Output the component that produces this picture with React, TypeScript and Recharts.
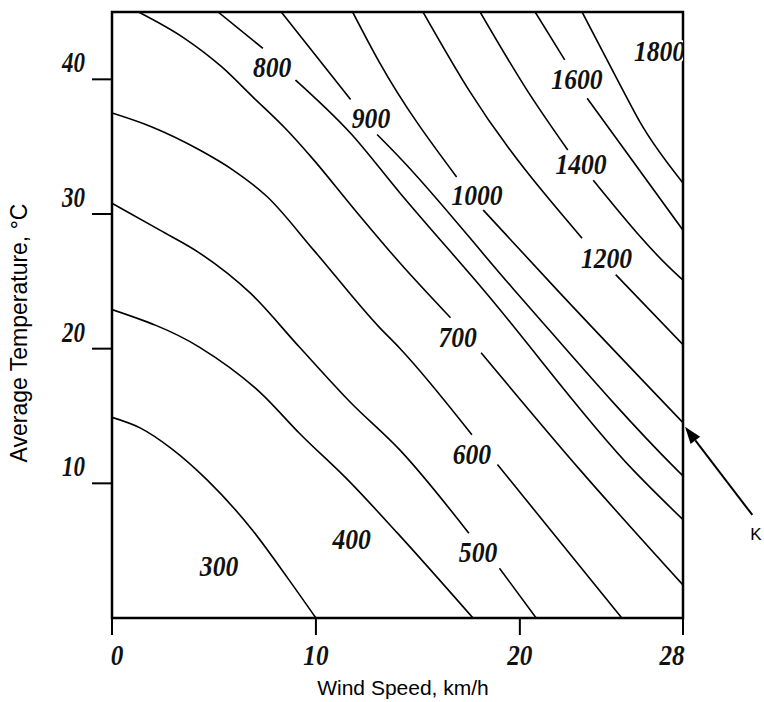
import React from 'react';
import { ComposedChart, Line, Scatter, XAxis, YAxis, ReferenceArea, ReferenceLine } from 'recharts';

type Pt = [number, number | null];

// wind speed km/h on x, average temperature °C on y; a null temperature leaves a gap for the inline label
const iso300: Pt[] = [[0, 14.9], [1.4, 14.1], [2.9, 12.6], [4.7, 10.2], [6.9, 6.5], [8.6, 3.0], [10.0, 0]];
const iso400: Pt[] = [[0, 22.9], [4.3, 20.1], [7.3, 16.7], [9.2, 13.7], [11.6, 10.2], [14.0, 6.3], [17.7, 0]];
const iso500: Pt[] = [[0, 30.8], [2.35, 28.8], [4.3, 27.1], [6.8, 24.1], [9.2, 20.1], [11.7, 16.0], [14.1, 12.5], [17.5, 6.3], [18.2, null], [19.0, 3.7], [20.8, 0]];
const iso600: Pt[] = [[0, 37.5], [1.9, 36.5], [4.3, 34.75], [5.9, 33.3], [7.6, 31.3], [9.9, 27.3], [13.1, 21.6], [14.1, 20.05], [17.65, 13.6], [18.3, null], [18.9, 11.4], [25.0, 0]];
const iso700: Pt[] = [[1.3, 45], [3.5, 43.1], [5.4, 40.9], [6.9, 38.7], [8.6, 36.2], [9.9, 34.0], [11.8, 30.5], [14.1, 26.4], [16.6, 22.3], [17.3, null], [18.1, 19.7], [22.95, 11.0], [28, 2.45]];
const iso800: Pt[] = [[5.2, 45], [7.4, 42.3], [8.2, null], [9.0, 39.95], [11.7, 36.0], [14.1, 31.6], [18.2, 24.4], [25.55, 11.0], [28, 7.3]];
const iso900: Pt[] = [[8.3, 45], [11.7, 38.5], [12.4, null], [13.0, 35.9], [14.1, 34.2], [19.7, 24.4], [27.7, 11.0], [28, 10.55]];
const iso1000: Pt[] = [[11.8, 45], [13.1, 41.3], [16.9, 32.75], [17.6, null], [18.2, 30.3], [21.8, 24.4], [28, 14.5]];
const iso1200: Pt[] = [[15.25, 45], [17.5, 39.2], [23.05, 28.2], [23.9, null], [24.7, 25.5], [28, 20.3]];
const iso1400: Pt[] = [[18.05, 45], [20.35, 39.2], [22.35, 34.75], [23.0, null], [23.6, 32.5], [27.85, 25.3], [28, 25.1]];
const iso1600: Pt[] = [[20.75, 45], [22.2, 41.45], [22.7, null], [23.3, 38.6], [28, 28.8]];
const iso1800: Pt[] = [[23.05, 45], [25.05, 39.2], [25.9, 36.8], [28, 32.3]];

const contours = [iso300, iso400, iso500, iso600, iso700, iso800, iso900, iso1000, iso1200, iso1400, iso1600, iso1800];

const levelText = ['300', '400', '500', '600', '700', '800', '900', '1000', '1200', '1400', '1600', '1800'];
const levelX = [5.25, 11.75, 17.95, 17.65, 16.95, 7.85, 12.7, 17.9, 24.25, 23.0, 22.8, 26.85];
const levelY = [3.85, 5.85, 4.9, 12.2, 20.9, 40.9, 37.1, 31.4, 26.7, 33.7, 40.0, 42.1];

const xTicks = [0, 10, 20, 28];
const yTicks = [10, 20, 30, 40];

// pointer for the "K" note, from tail to tip
const pointer = [{ x: 31.4, y: 7.65 }, { x: 28.1, y: 14.2 }];

const serif = "'Liberation Serif', 'Times New Roman', serif";
const sans = "Arial, 'Liberation Sans', sans-serif";

const levels = levelText.map((text, i) => ({ x: levelX[i], y: levelY[i], text }));

const LevelLabel = (p: any) => {
  const t = p.payload.text;
  return (
    <text x={p.cx} y={p.cy + 10} textAnchor="middle" fontFamily={serif} fontWeight="bold" fontStyle="italic"
      fontSize={30} textLength={t.length * 12.8} lengthAdjust="spacingAndGlyphs" fill="#111"
      stroke="#fff" strokeWidth={4} paintOrder="stroke">
      {t}
    </text>
  );
};

const XTick = (p: any) => {
  const v = p.payload.value;
  const dx = v === 0 ? 5 : v === 28 ? -11 : 0;
  const t = String(v);
  return (
    <text x={p.x + dx} y={p.y + 28} textAnchor="middle" fontFamily={serif} fontWeight="bold" fontStyle="italic"
      fontSize={30} textLength={t.length * 12.6} lengthAdjust="spacingAndGlyphs" fill="#111">
      {t}
    </text>
  );
};

const YTick = (p: any) => {
  const t = String(p.payload.value);
  return (
    <text x={p.x - 5} y={p.y - 7} textAnchor="end" fontFamily={serif} fontWeight="bold" fontStyle="italic"
      fontSize={30} textLength={t.length * 11.5} lengthAdjust="spacingAndGlyphs" fill="#111">
      {t}
    </text>
  );
};

const Pointer = (p: any) => {
  const { x1, y1, x2, y2 } = p;
  const a = Math.atan2(y2 - y1, x2 - x1);
  const len = 17, half = 6;
  const bx = x2 - len * Math.cos(a);
  const by = y2 - len * Math.sin(a);
  const nx = -Math.sin(a) * half;
  const ny = Math.cos(a) * half;
  return (
    <g>
      <line x1={x1} y1={y1} x2={bx} y2={by} stroke="#000" strokeWidth={2} />
      <polygon points={`${x2},${y2} ${bx + nx},${by + ny} ${bx - nx},${by - ny}`} fill="#000" />
      <text x={x1 - 2} y={y1 + 25} fontFamily={sans} fontSize={17} fill="#000">K</text>
    </g>
  );
};

export default function App() {
  return (
    <div style={{ position: 'absolute', left: 0, top: 0, width: 764, height: 702, background: '#fff', overflow: 'hidden' }}>
      <ComposedChart width={764} height={702} margin={{ top: 12, right: 81, bottom: 24, left: 52 }}>
        <XAxis type="number" dataKey="x" domain={[0, 28]} ticks={xTicks} allowDataOverflow height={60}
          axisLine={false} tickSize={17} tickLine={{ stroke: '#000', strokeWidth: 2 }} tick={<XTick />} />
        <YAxis type="number" dataKey="y" domain={[0, 45]} ticks={yTicks} allowDataOverflow width={60}
          axisLine={false} tickSize={20} tickLine={{ stroke: '#000', strokeWidth: 2 }} tick={<YTick />} />
        <ReferenceArea x1={0} x2={28} y1={0} y2={45} fill="none" fillOpacity={0} stroke="#000" strokeWidth={2.5} ifOverflow="visible" />
        {contours.map((pts, i) => (
          <Line key={levelText[i]} data={pts.map(([x, y]) => ({ x, y }))} dataKey="y" type="monotone"
            stroke="#000" strokeWidth={1.6} dot={false} activeDot={false} connectNulls={false} isAnimationActive={false} />
        ))}
        <Scatter data={levels} dataKey="y" shape={<LevelLabel />} isAnimationActive={false} />
        <ReferenceLine segment={pointer} ifOverflow="visible" shape={<Pointer />} />
      </ComposedChart>
      <svg width={764} height={702} style={{ position: 'absolute', left: 0, top: 0, pointerEvents: 'none' }}>
        <text x={403} y={695} textAnchor="middle" fontFamily={sans} fontSize={21} fill="#000">Wind Speed, km/h</text>
        <text x={27} y={333} textAnchor="middle" fontFamily={sans} fontSize={23} fill="#000"
          transform="rotate(-90 27 333)">Average Temperature, °C</text>
      </svg>
    </div>
  );
}
